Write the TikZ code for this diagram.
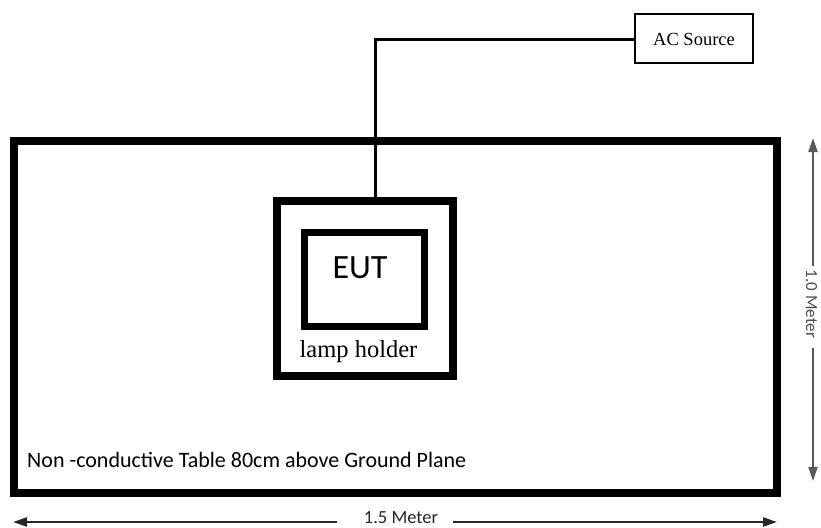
\documentclass[tikz,border=0pt]{standalone}
\usepackage{fontspec}
\setmainfont{Liberation Serif}
\newfontfamily\carl{Carlito}
\usetikzlibrary{arrows.meta}
\begin{document}
\begin{tikzpicture}[x=1pt,y=-1pt,
  thickbox/.style={draw=black,line width=8pt},
  midbox/.style={draw=black,line width=7pt},
  wire/.style={draw=black,line width=3pt},
  dimline/.style={line width=2.2pt},
  dimarrow/.style={-{Triangle[length=14pt,width=9pt]}}]
\useasboundingbox[fill=white] (0,0) rectangle (821,527);
% table
\draw[thickbox] (14,141) rectangle (777,493);
% lamp holder
\node[thickbox,minimum width=176pt,minimum height=175pt,inner sep=0pt] (holder) at (365,288.5) {};
\node[midbox,minimum width=120pt,minimum height=94pt,inner sep=0pt] (eut) at (364,279) {};
\node (euttxt) at (360,268) {\carl\fontsize{34}{40}\selectfont EUT};
\node (lamptxt) at (358.5,352) {\fontsize{24.5}{28}\selectfont lamp holder};
% AC source
\node[draw=black,line width=2.5pt,minimum width=118pt,minimum height=49pt,inner sep=0pt] (ac) at (694,38.5) {};
\node (actxt) at (694,39) {\fontsize{18.5}{22}\selectfont AC Source};
% wire
\coordinate (corner) at (375,40);
\draw[wire] (holder.north -| corner) -- (corner) -- (ac.west |- corner);
% table label
\node[anchor=base west,inner sep=0pt] (tabletxt) at (27,467) {\carl\fontsize{22}{26}\selectfont Non -conductive Table 80cm above Ground Plane};
% horizontal dimension
\node[inner sep=0pt,text=black!85] (hdim) at (401,518) {\carl\fontsize{18.5}{22}\selectfont 1.5 Meter};
\coordinate (hl) at (13,522);
\coordinate (hr) at (777,522);
\draw[dimline,black!85,dimarrow] (337,522) -- (hl);
\draw[dimline,black!85,dimarrow] (453,522) -- (hr);
% vertical dimension
\node[inner sep=0pt,rotate=-90,text=black!70] (vdim) at (811.5,304) {\carl\fontsize{17}{20}\selectfont 1.0 Meter};
\coordinate (vt) at (813,138);
\coordinate (vb) at (813,481);
\draw[dimline,black!65,line width=2pt,dimarrow] (813,266) -- (vt);
\draw[dimline,black!65,line width=2pt,dimarrow] (813,348) -- (vb);
\end{tikzpicture}
\end{document}
